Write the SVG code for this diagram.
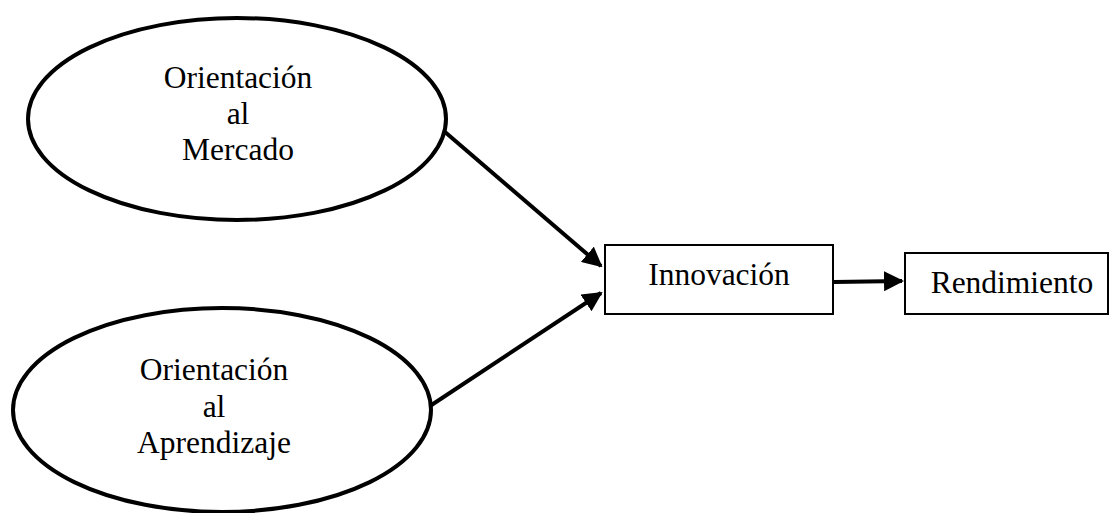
<svg xmlns="http://www.w3.org/2000/svg" width="1110" height="513" viewBox="0 0 1110 513">
<style>
.ell{fill:#fff;stroke:#000;stroke-width:4}
.box{fill:#fff;stroke:#000;stroke-width:2}
.lbl{font-family:"Liberation Serif","Times New Roman",serif;font-size:31.5px;fill:#000;text-anchor:middle}
.con{stroke:#000;stroke-width:4;fill:none}
</style>
<defs>
<marker id="ah" markerWidth="5" markerHeight="5" refX="4.5" refY="2.5" orient="auto" markerUnits="strokeWidth">
<path d="M0,0 L5,2.5 L0,5 Z" fill="#000"/>
</marker>
</defs>
<rect width="1110" height="513" fill="#fff"/>
<g id="connectors">
<line class="con" x1="445" y1="132" x2="601" y2="266" marker-end="url(#ah)"/>
<line class="con" x1="430" y1="406" x2="601" y2="293" marker-end="url(#ah)"/>
<line class="con" x1="834" y1="282" x2="902" y2="281" marker-end="url(#ah)"/>
</g>
<g id="node-mercado">
<ellipse class="ell" cx="237" cy="119" rx="209" ry="101"/>
<text class="lbl" x="238" y="88">Orientación</text>
<text class="lbl" x="238" y="124">al</text>
<text class="lbl" x="238" y="160">Mercado</text>
</g>
<g id="node-aprendizaje">
<ellipse class="ell" cx="222" cy="410" rx="209" ry="102"/>
<text class="lbl" x="214" y="380">Orientación</text>
<text class="lbl" x="214" y="417">al</text>
<text class="lbl" x="214" y="453">Aprendizaje</text>
</g>
<g id="node-innovacion">
<rect class="box" x="605" y="245" width="228" height="69"/>
<text class="lbl" x="719" y="285">Innovación</text>
</g>
<g id="node-rendimiento">
<rect class="box" x="905" y="253" width="203" height="61"/>
<text class="lbl" x="1012" y="293">Rendimiento</text>
</g>
</svg>
